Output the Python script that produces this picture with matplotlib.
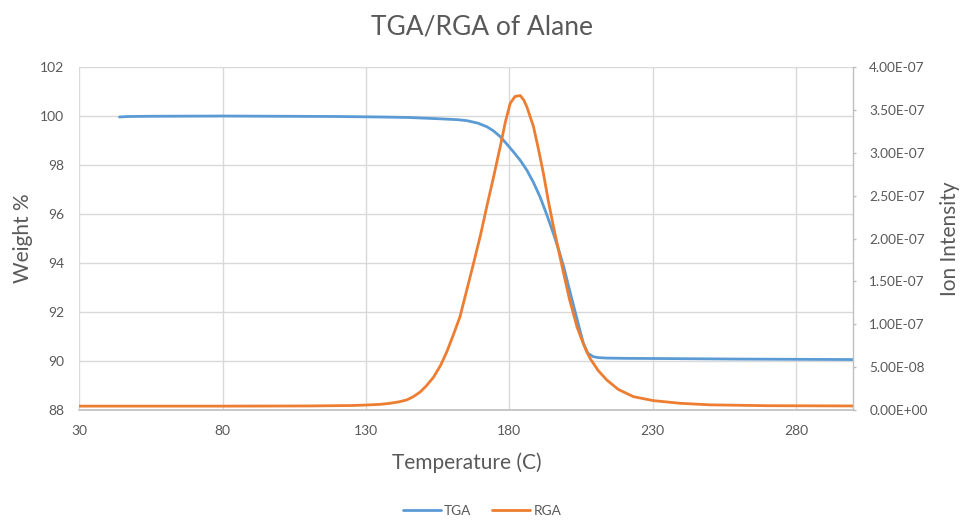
import matplotlib
matplotlib.use("Agg")
import matplotlib.pyplot as plt
from matplotlib.ticker import FuncFormatter, MultipleLocator

plt.rcParams['font.family'] = ['Lato', 'DejaVu Sans']

# ---- data ----
tga_temp = [44, 47, 55, 80, 100, 120, 135, 145, 155, 162, 165.2, 169, 172.2, 174.5,
            176.8, 179, 181.4, 183.8, 186.1, 188.4, 190.7, 193, 195.4, 197.2, 199,
            200.7, 202, 203.1, 204.9, 205.9, 207.4, 209.2, 211, 214, 220, 235, 260,
            280, 300]
tga_weight = [99.97, 99.99, 100.0, 100.01, 100.0, 99.99, 99.97, 99.95, 99.9, 99.86,
              99.82, 99.72, 99.57, 99.4, 99.17, 98.88, 98.55, 98.2, 97.8, 97.3, 96.71,
              96.0, 95.2, 94.55, 93.84, 93.04, 92.45, 91.95, 91.13, 90.7, 90.32, 90.18,
              90.14, 90.12, 90.11, 90.1, 90.08, 90.07, 90.06]

rga_temp = [30, 50, 80, 110, 125, 130.3, 135, 138.4, 141.5, 144.2, 146.5, 148.9, 151,
            153.5, 156, 158.2, 160.5, 162.8, 165, 167.5, 170, 172.1, 174.5, 176.8,
            178.6, 180.3, 182, 183.8, 185, 186.1, 188.4, 190, 191.9, 193.6, 195.4,
            197.2, 198.9, 201, 203.6, 205.5, 207, 208.2, 211, 214, 218, 223.3, 230.3,
            239.6, 250, 270, 300]
rga_ion = [0.045, 0.045, 0.045, 0.047, 0.052, 0.058, 0.066, 0.078, 0.095, 0.117, 0.155,
           0.21, 0.28, 0.38, 0.52, 0.68, 0.88, 1.09, 1.38, 1.71, 2.05, 2.37, 2.72, 3.07,
           3.36, 3.58, 3.66, 3.67, 3.62, 3.54, 3.31, 3.07, 2.76, 2.44, 2.14, 1.86, 1.60,
           1.29, 0.97, 0.80, 0.68, 0.60, 0.46, 0.35, 0.24, 0.155, 0.109, 0.078, 0.06,
           0.05, 0.047]
rga_scale = 1e-7

x_ticks = [30, 80, 130, 180, 230, 280]
title = "TGA/RGA of Alane"
x_label = "Temperature (C)"
y_label = "Weight %"
y2_label = "Ion Intensity"
series_names = ["TGA", "RGA"]

# ---- styling ----
blue = "#5B9BD5"
orange = "#ED7D31"
grid_c = "#D9D9D9"
axis_c = "#BFBFBF"
text_c = "#595959"

fig = plt.figure(figsize=(9.64, 5.23), dpi=100)
ax = fig.add_axes([0.0823, 0.2161, 0.8029, 0.6552])
ax2 = ax.twinx()

l1, = ax.plot(tga_temp, tga_weight, color=blue, lw=2.0, solid_capstyle='round')
l2, = ax2.plot(rga_temp, [v * rga_scale for v in rga_ion], color=orange, lw=2.0,
               solid_capstyle='round')

ax.set_xlim(30, 300)
ax.set_ylim(88, 102)
ax2.set_ylim(0, 4e-7)
ax.set_xticks(x_ticks)
ax.yaxis.set_major_locator(MultipleLocator(2))
ax2.yaxis.set_major_locator(MultipleLocator(5e-8))
ax2.yaxis.set_major_formatter(FuncFormatter(lambda v, p: f"{v:.2E}"))

ax.grid(True, color=grid_c, lw=1.0)
ax.set_axisbelow(True)

for a in (ax, ax2):
    for s in ('top', 'left'):
        a.spines[s].set_visible(False)
    a.spines['bottom'].set_color(axis_c)
    a.spines['bottom'].set_linewidth(1.2)
    a.spines['right'].set_color(axis_c)
    a.spines['right'].set_linewidth(1.0)
ax.spines['right'].set_visible(False)
ax2.spines['bottom'].set_visible(False)

ax.tick_params(axis='x', length=0, pad=11, labelsize=10, labelcolor=text_c)
ax.tick_params(axis='y', length=0, pad=11, labelsize=10, labelcolor=text_c)
ax2.tick_params(axis='y', length=2.5, width=1, color=axis_c, pad=9, labelsize=9.8,
                labelcolor=text_c)

ax.set_xlabel(x_label, fontsize=15, color=text_c, labelpad=11)
ax.set_ylabel(y_label, fontsize=15, color=text_c, labelpad=5)
ax2.set_ylabel(y2_label, fontsize=15, color=text_c, labelpad=9)
fig.suptitle(title, fontsize=19, color=text_c, y=0.972)

fig.legend([l1, l2], series_names, loc='lower center', bbox_to_anchor=(0.5, -0.012),
           ncol=2, frameon=False, fontsize=9.8, handlelength=2.8, columnspacing=1.5,
           labelcolor=text_c, handletextpad=0.25)

fig.savefig("out.png", dpi=100)
